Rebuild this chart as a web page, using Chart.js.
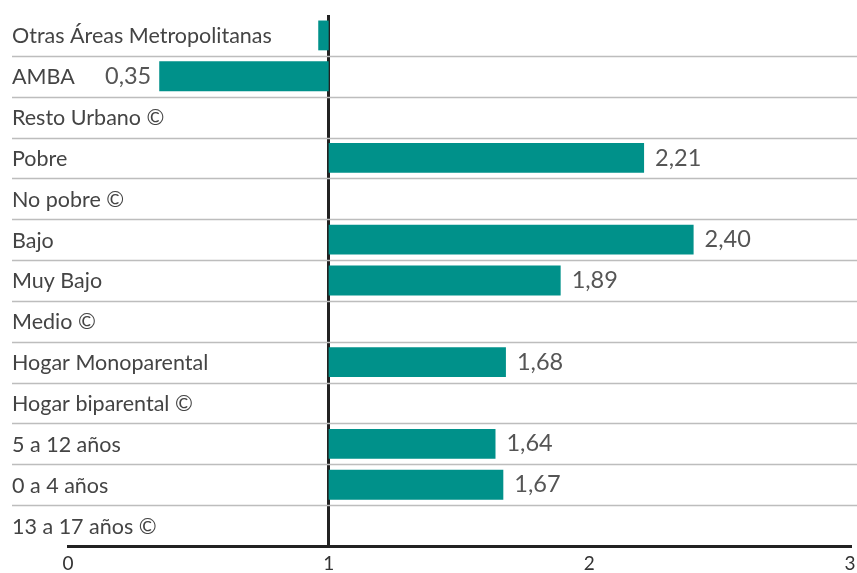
<!DOCTYPE html>
<html lang="es">
<head>
    <meta charset="UTF-8">
    <title>Chart</title>
    <script src="https://cdn.jsdelivr.net/npm/chart.js"></script>
    <style>
        * { margin: 0; padding: 0; box-sizing: border-box; }
        body { background: #fff; width: 857px; height: 573px; overflow: hidden; }
    </style>
</head>
<body>
    <canvas id="chart" width="857" height="573"></canvas>
    <script>
        var categories = ['Otras Áreas Metropolitanas', 'AMBA', 'Resto Urbano ©', 'Pobre', 'No pobre ©',
            'Bajo', 'Muy Bajo', 'Medio ©', 'Hogar Monoparental', 'Hogar biparental ©',
            '5 a 12 años', '0 a 4 años', '13 a 17 años ©'];
        var values = [0.96, 0.35, null, 2.21, null, 2.40, 1.89, null, 1.68, null, 1.64, 1.67, null];
        var valueLabels = [null, '0,35', null, '2,21', null, '2,40', '1,89', null, '1,68', null, '1,64', '1,67', null];
        var xTicks = [0, 1, 2, 3];
        var baseline = 1;

        var teal = '#00918a';
        var font = 'Lato, "Noto Sans", sans-serif';

        var sideLabels = {
            id: 'sideLabels',
            beforeDatasetsDraw: function (chart) {
                var c = chart.ctx, y = chart.scales.y;
                c.save();
                c.strokeStyle = '#bdbdbd';
                c.lineWidth = 1.5;
                for (var i = 1; i < categories.length; i++) {
                    var yy = Math.round((y.getPixelForValue(i - 1) + y.getPixelForValue(i)) / 2) + 0.5;
                    c.beginPath();
                    c.moveTo(12, yy);
                    c.lineTo(chart.width, yy);
                    c.stroke();
                }
                c.restore();
            },
            afterDatasetsDraw: function (chart) {
                var c = chart.ctx, y = chart.scales.y, x = chart.scales.x;
                c.save();
                c.textBaseline = 'middle';
                c.font = '21.5px ' + font;
                c.fillStyle = '#444';
                c.textAlign = 'left';
                categories.forEach(function (lab, i) {
                    c.fillText(lab, 12, y.getPixelForValue(i) + 1);
                });
                c.font = '23.5px ' + font;
                c.fillStyle = '#555';
                valueLabels.forEach(function (lab, i) {
                    if (!lab) return;
                    var v = values[i];
                    var px = x.getPixelForValue(v);
                    if (v < baseline) {
                        c.textAlign = 'right';
                        c.fillText(lab, px - 8, y.getPixelForValue(i));
                    } else {
                        c.textAlign = 'left';
                        c.fillText(lab, px + 11, y.getPixelForValue(i));
                    }
                });
                c.restore();
            }
        };

        new Chart(document.getElementById('chart'), {
            type: 'bar',
            data: {
                labels: categories,
                datasets: [{
                    data: values.map(function (v) { return v === null ? null : [baseline, v]; }),
                    backgroundColor: teal,
                    borderWidth: 0,
                    categoryPercentage: 1,
                    barPercentage: 0.73
                }]
            },
            options: {
                indexAxis: 'y',
                responsive: false,
                animation: false,
                layout: { padding: { left: 68, right: 7, top: 15, bottom: 0 } },
                plugins: { legend: { display: false }, tooltip: { enabled: false } },
                scales: {
                    x: {
                        min: 0,
                        max: 3,
                        afterBuildTicks: function (s) { s.ticks = xTicks.map(function (v) { return { value: v }; }); },
                        afterFit: function (s) {
                            s.height = 27;
                            s.paddingLeft = 0;
                            s.paddingRight = 0;
                        },
                        border: { display: true, color: '#222', width: 3 },
                        grid: {
                            drawTicks: false,
                            color: function (ctx) { return ctx.tick && ctx.tick.value === baseline ? '#222' : 'rgba(0,0,0,0)'; },
                            lineWidth: 3
                        },
                        ticks: { color: '#333', font: { family: font, size: 19 }, padding: 6 }
                    },
                    y: {
                        display: false,
                        grid: { display: false }
                    }
                }
            },
            plugins: [sideLabels]
        });
    </script>
</body>
</html>
